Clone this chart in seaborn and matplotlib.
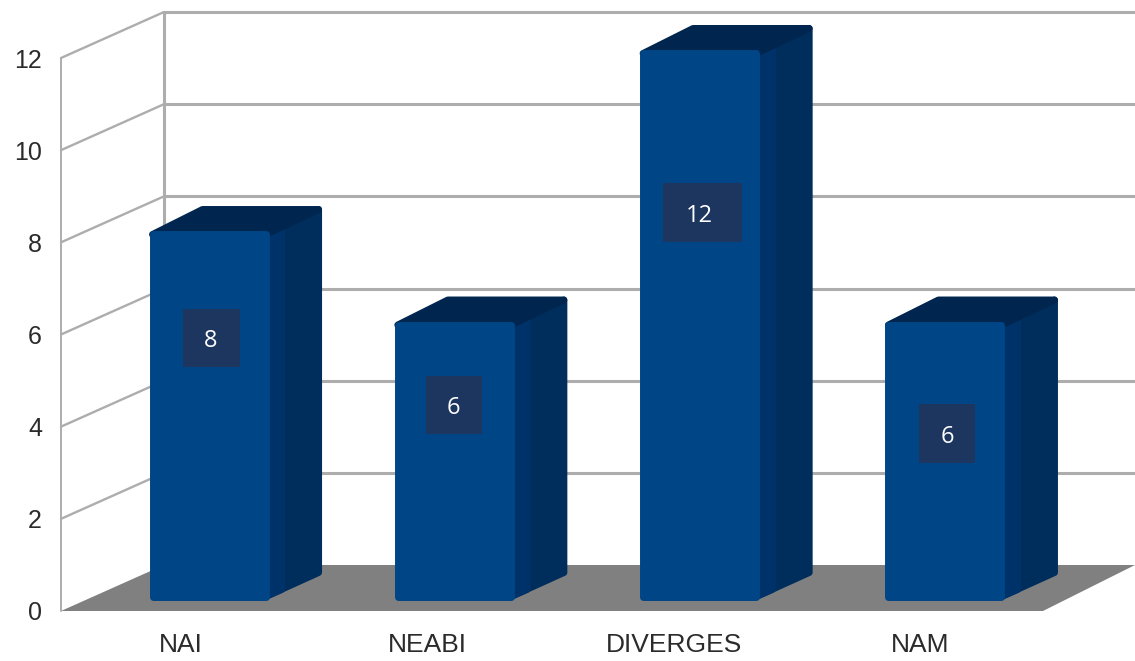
import seaborn as sns
sns.set_theme(style='white')
import matplotlib.pyplot as plt
from matplotlib.patches import Polygon, Rectangle
from matplotlib.transforms import IdentityTransform

plt.rcParams['font.family'] = ['Liberation Sans', 'DejaVu Sans']

categories = ['NAI', 'NEABI', 'DIVERGES', 'NAM']
values = [8, 6, 12, 6]
y_ticks = [0, 2, 4, 6, 8, 10, 12]

W, H = 1135, 661
GRID = '#adadad'
FRONT = '#004586'
SIDE = '#002e5c'
SIDE_INNER = '#00326a'
TOP = '#00254f'
BOX = '#1c3660'
DX, DY = 103, 46      # depth of the floor, pixels
BAR_LW = 5            # thick round edge gives the soft corners
R = BAR_LW * 100 / 72 / 2


def axes_px(left, right, top, bottom):
    return [left / W, 1 - bottom / H, (right - left) / W, (bottom - top) / H]


fig = plt.figure(figsize=(W / 100, H / 100), dpi=100, facecolor='white')
px = IdentityTransform()

# walls and floor, ticks live on this one
ax = fig.add_axes(axes_px(58, 1043, 58, 611))
ax.set_xlim(-0.5, 3.5)
ax.set_ylim(0, 12)
ax.patch.set_alpha(0)
sns.despine(ax=ax, left=True, bottom=True)
ax.set_xticks(range(len(categories)), categories)
ax.set_yticks(y_ticks)
ax.tick_params(axis='y', length=0, pad=11.5, labelsize=18, labelcolor='#2b2b2b')
ax.tick_params(axis='x', length=0, pad=16, labelsize=19, labelcolor='#2b2b2b')

x_front = 61
y0 = ax.transData.transform((0, 0))[1]
y_top = ax.transData.transform((0, 12))[1]
right_front = ax.transAxes.transform((1, 0))[0]


def wall_line(xs, ys, lw):
    ax.add_line(plt.Line2D(xs, ys, color=GRID, lw=lw, transform=px, clip_on=False))


ax.add_patch(Polygon([(x_front, y0), (x_front + DX, y0 + DY), (W, y0 + DY), (right_front, y0)],
                     closed=True, facecolor='#808080', edgecolor='none', transform=px, clip_on=False))
for t in y_ticks:
    y = ax.transData.transform((0, t))[1]
    if t > 0:
        wall_line([x_front, x_front + DX], [y, y + DY], 1.7)
        wall_line([x_front + DX, W], [y + DY, y + DY], 2.2)
wall_line([x_front, x_front], [y0, y_top], 1.4)
wall_line([x_front + DX, x_front + DX], [y0 + DY, y_top + DY], 2.2)

# bars sit a bit behind the front edge, so they get their own axes
ax_bars = fig.add_axes(axes_px(86.4, 1067.6, 50 + R, 600 - R))
ax_bars.patch.set_alpha(0)
sns.barplot(x=categories, y=values, color=FRONT, saturation=1, width=(120 - 2 * R) / 245.3, ax=ax_bars, zorder=3)
ax_bars.set_xlim(-0.5, 3.5)
ax_bars.set_ylim(0, 12)
ax_bars.axis('off')

label_frac = [0.714, 0.705, 0.707, 0.60]
box_px = [57, 56, 79, 56]
box_shift = [2.5, -0.5, 3, 2]
text_shift = [2, -1, 0, 2]
for i, bar in enumerate(list(ax_bars.patches)):
    bar.set_edgecolor(FRONT)
    bar.set_linewidth(BAR_LW)
    bar.set_joinstyle('round')
    bar.set_clip_on(False)
    x0, b = ax_bars.transData.transform((bar.get_x(), 0))
    x1, t = ax_bars.transData.transform((bar.get_x() + bar.get_width(), bar.get_height()))

    side = Polygon([(x1, b), (x1, t), (x1 + 53, t + 25), (x1 + 53, b + 24)],
                   closed=True, facecolor=SIDE, edgecolor=SIDE, lw=BAR_LW, joinstyle='round',
                   transform=px, zorder=2, clip_on=False)
    inner = Polygon([(x1, b), (x1, t), (x1 + 16, t + 8), (x1 + 16, b + 7)],
                    closed=True, facecolor=SIDE_INNER, edgecolor=SIDE_INNER, lw=BAR_LW, joinstyle='round',
                    transform=px, zorder=2.1, clip_on=False)
    top = Polygon([(x0, t), (x0 + 50, t + 25), (x1 + 53, t + 25), (x1, t)],
                  closed=True, facecolor=TOP, edgecolor=TOP, lw=BAR_LW, joinstyle='round',
                  transform=px, zorder=2.2, clip_on=False)
    ax_bars.add_patch(side)
    ax_bars.add_patch(inner)
    ax_bars.add_patch(top)

    cx = bar.get_x() + bar.get_width() / 2
    cy = values[i] * label_frac[i]
    bw, bh = box_px[i] / 245.3, 59 / 45.5
    bx = cx + box_shift[i] / 245.3
    ax_bars.add_patch(Rectangle((bx - bw / 2, cy - bh / 2), bw, bh, facecolor=BOX, edgecolor='none', zorder=4))
    ax_bars.text(cx + text_shift[i] / 245.3, cy, str(values[i]), color='white', ha='center', va='center_baseline',
                 fontsize=17, family=['Open Sans', 'DejaVu Sans'], zorder=5)

plt.savefig('out.png', dpi=100)
plt.close()
